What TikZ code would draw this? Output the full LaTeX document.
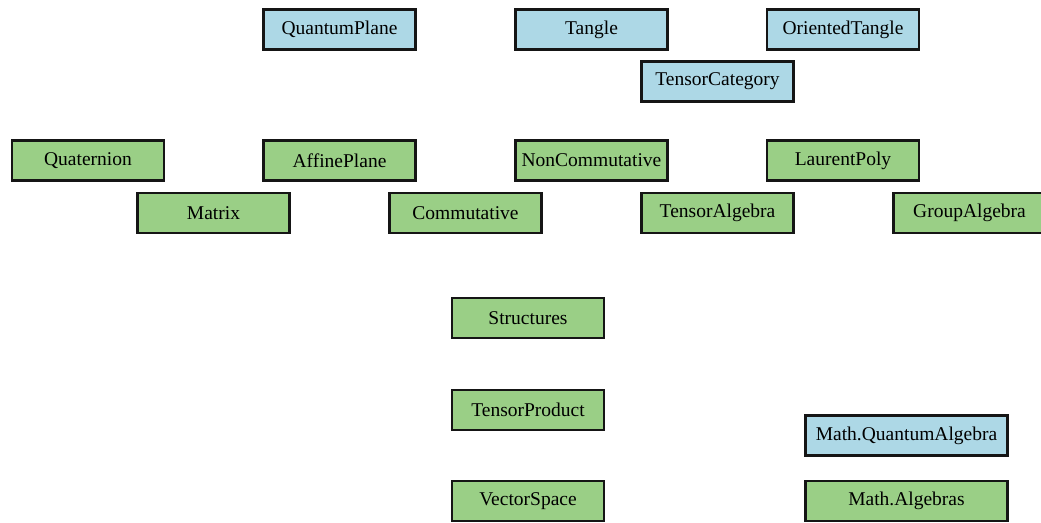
\documentclass[tikz,border=0pt]{standalone}
\usepackage{fontspec}
\setmainfont{Liberation Serif}
\definecolor{boxblue}{HTML}{ADD8E6}
\definecolor{boxgreen}{HTML}{9ACF86}
\definecolor{boxline}{HTML}{151515}
\begin{document}
\begin{tikzpicture}[x=1pt,y=-1pt,
  modbox/.style={draw=boxline,line width=2.5pt,minimum width=152pt,minimum height=40pt,inner sep=0pt,
    font=\fontsize{19.5}{22}\selectfont,text=black},
  bluebox/.style={modbox,fill=boxblue},
  greenbox/.style={modbox,fill=boxgreen},
  widebox/.style={minimum width=202pt}]
\useasboundingbox (0,0) rectangle (1041,522);
\clip (0,0) rectangle (1041,522);
\node[bluebox] (qplane) at (339.5,29.5) {QuantumPlane};
\node[bluebox] (tangle) at (591.5,29.5) {Tangle};
\node[bluebox] (otangle) at (843,29.5) {OrientedTangle};
\node[bluebox] (tcat) at (717.5,81.5) {TensorCategory};
\node[greenbox] (quat) at (88,160.5) {Quaternion};
\node[greenbox] (aplane) at (339.5,160.5) {AffinePlane};
\node[greenbox] (noncomm) at (591.5,160.5) {NonCommutative};
\node[greenbox] (lpoly) at (843,160.5) {LaurentPoly};
\node[greenbox] (matrix) at (213.5,213) {Matrix};
\node[greenbox] (comm) at (465.5,213) {Commutative};
\node[greenbox] (talg) at (717.5,213) {TensorAlgebra};
\node[greenbox] (galg) at (969.5,213) {GroupAlgebra};
\node[greenbox] (struct) at (528,318) {Structures};
\node[greenbox] (tprod) at (528,410) {TensorProduct};
\node[greenbox] (vspace) at (528,501) {VectorSpace};
\node[bluebox,widebox] (mqa) at (906.5,435.5) {Math.QuantumAlgebra};
\node[greenbox,widebox] (malg) at (906.5,501) {Math.Algebras};
\end{tikzpicture}
\end{document}
